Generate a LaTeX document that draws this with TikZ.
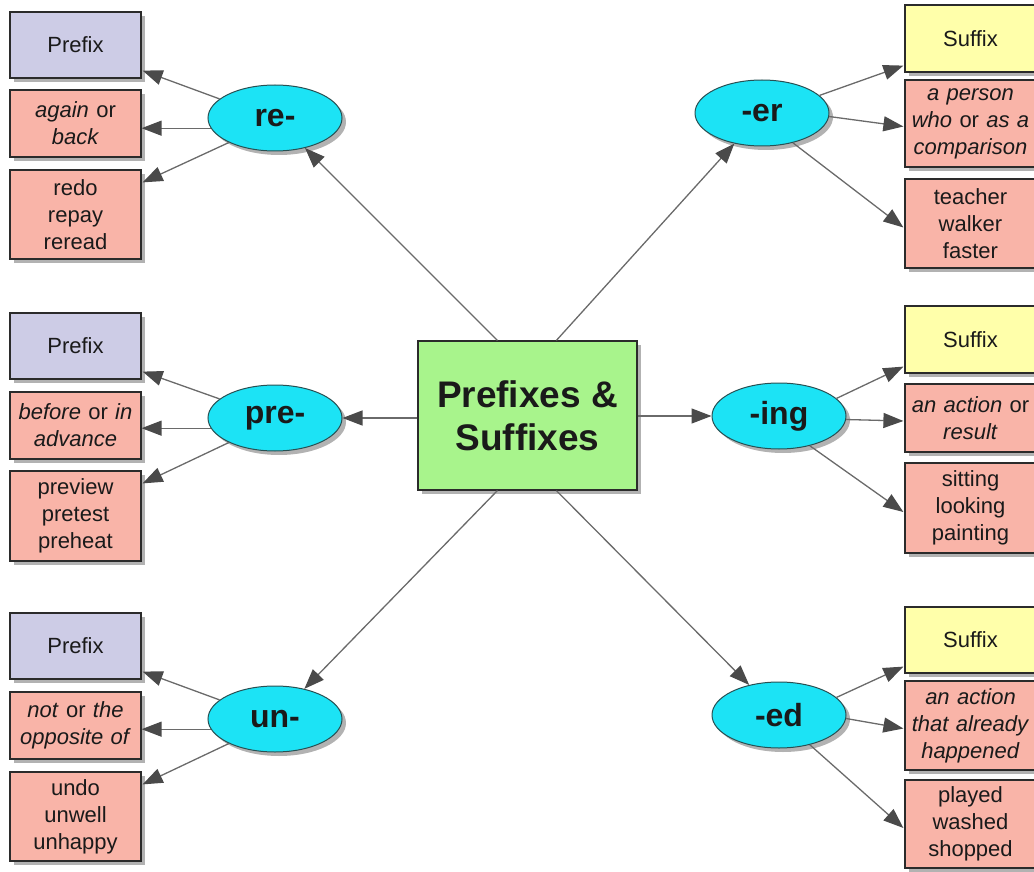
\documentclass[tikz,border=0pt]{standalone}
\usepackage{fontspec}
\setmainfont{Liberation Sans}
\usetikzlibrary{shapes.geometric,arrows.meta,shadows,calc}
\definecolor{lav}{HTML}{CDCCE6}
\definecolor{pinkc}{HTML}{F9B4A8}
\definecolor{yel}{HTML}{FFFFAA}
\definecolor{cyanc}{HTML}{1CE3F5}
\definecolor{greenc}{HTML}{A8F48C}
\definecolor{bordc}{HTML}{2B2B2B}
\definecolor{txt}{HTML}{1A1A1A}
\definecolor{linec}{HTML}{6A6A6A}
\definecolor{tipc}{HTML}{4A4A4A}
\tikzset{
  shad/.style={drop shadow={shadow xshift=4pt,shadow yshift=-4pt,fill=black,opacity=0.3}},
  box/.style={rectangle,draw=bordc,line width=1.2pt,minimum width=131pt,text width=127pt,
    align=center,inner sep=0pt,font=\fontsize{22}{27}\selectfont,text=txt,shad},
  pbox/.style={box,fill=lav},
  sbox/.style={box,fill=yel},
  mbox/.style={box,fill=pinkc},
  oval/.style={ellipse,draw=bordc!80!cyanc,line width=1pt,fill=cyanc,minimum width=134pt,
    minimum height=66pt,inner sep=0pt,font=\fontsize{32}{36}\bfseries\selectfont,text=txt,shad},
  hub/.style={rectangle,draw=bordc,line width=1.2pt,fill=greenc,minimum width=219pt,
    minimum height=149pt,align=center,inner sep=0pt,font=\fontsize{37}{43}\bfseries\selectfont,text=txt,shad},
  arr/.style={draw=linec,line width=1.3pt,-{Triangle[length=20pt,width=15pt,color=tipc]}}
}
\begin{document}
\begin{tikzpicture}[x=1pt,y=-1pt]
\useasboundingbox (0,0) rectangle (1034,872);
% hub
\node[hub] (hub) at (527.5,415.5) {Prefixes \&\\Suffixes};
% left groups
\node[oval] (re) at (275,118) {re-};
\node[pbox,minimum height=66pt] (Are) at (75.5,45) {Prefix};
\node[mbox,minimum height=67pt] (Bre) at (75.5,123.5) {\textit{again} or\\\textit{back}};
\node[mbox,minimum height=89pt] (Cre) at (75.5,214.5) {redo\\repay\\reread};

\node[oval] (pre) at (275,418) {pre-};
\node[pbox,minimum height=66pt] (Apre) at (75.5,346) {Prefix};
\node[mbox,minimum height=67pt] (Bpre) at (75.5,425.5) {\textit{before} or \textit{in}\\\textit{advance}};
\node[mbox,minimum height=90pt] (Cpre) at (75.5,516) {preview\\pretest\\preheat};

\node[oval] (un) at (275,719) {un-};
\node[pbox,minimum height=66pt] (Aun) at (75.5,646) {Prefix};
\node[mbox,minimum height=67pt] (Bun) at (75.5,725.5) {\textit{not} or \textit{the}\\\textit{opposite of}};
\node[mbox,minimum height=89pt] (Cun) at (75.5,816.5) {undo\\unwell\\unhappy};
% right groups
\node[oval] (er) at (762,113) {-er};
\node[sbox,minimum height=67pt] (Aer) at (970.5,38.5) {Suffix};
\node[mbox,minimum height=87pt] (Ber) at (970.5,123.5) {\textit{a person}\\\textit{who} or \textit{as a}\\\textit{comparison}};
\node[mbox,minimum height=89pt] (Cer) at (970.5,223.5) {teacher\\walker\\faster};

\node[oval] (ing) at (779,416) {-ing};
\node[sbox,minimum height=67pt] (Aing) at (970.5,339.5) {Suffix};
\node[mbox,minimum height=68pt] (Bing) at (970.5,418) {\textit{an action} or\\\textit{result}};
\node[mbox,minimum height=90pt] (Cing) at (970.5,508) {sitting\\looking\\painting};

\node[oval] (ed) at (779,715) {-ed};
\node[sbox,minimum height=66pt] (Aed) at (970.5,640) {Suffix};
\node[mbox,minimum height=89pt] (Bed) at (970.5,725.5) {\textit{an action}\\\textit{that already}\\\textit{happened}};
\node[mbox,minimum height=88pt] (Ced) at (970.5,824) {played\\washed\\shopped};
% hub connectors
\coordinate (h1) at ($(hub.north west)+(80pt,0pt)$);
\coordinate (h2) at ($(hub.north west)+(139pt,0pt)$);
\coordinate (h3) at ($(hub.south west)+(80pt,0pt)$);
\coordinate (h4) at ($(hub.south west)+(139pt,0pt)$);
\draw[arr] (h1) -- (re);
\draw[arr] (h2) -- (er);
\draw[arr] (h3) -- (un);
\draw[arr] (h4) -- (ed);
\draw[arr] (pre -| hub.west) -- (pre);
\draw[arr] (ing -| hub.east) -- (ing);
% left group connectors
\foreach \g in {re,pre,un}{
  \draw[arr] (\g.161) -- ($(A\g.south east)+(1pt,8pt)$);
  \draw[arr] (\g.189) -- (\g.189 -| B\g.east);
  \draw[arr] (\g.208) -- ($(C\g.north east)+(1pt,-13pt)$);
}
% right group connectors
\foreach \g in {er,ing,ed}{
  \draw[arr] (\g.17) -- ($(A\g.south west)+(-1pt,7pt)$);
  \draw[arr] (\g.357) -- ($(B\g.west)+(-1pt,-3pt)$);
  \draw[arr] (\g.316) -- ($(C\g.west)+(-1pt,-4pt)$);
}
\end{tikzpicture}
\end{document}
